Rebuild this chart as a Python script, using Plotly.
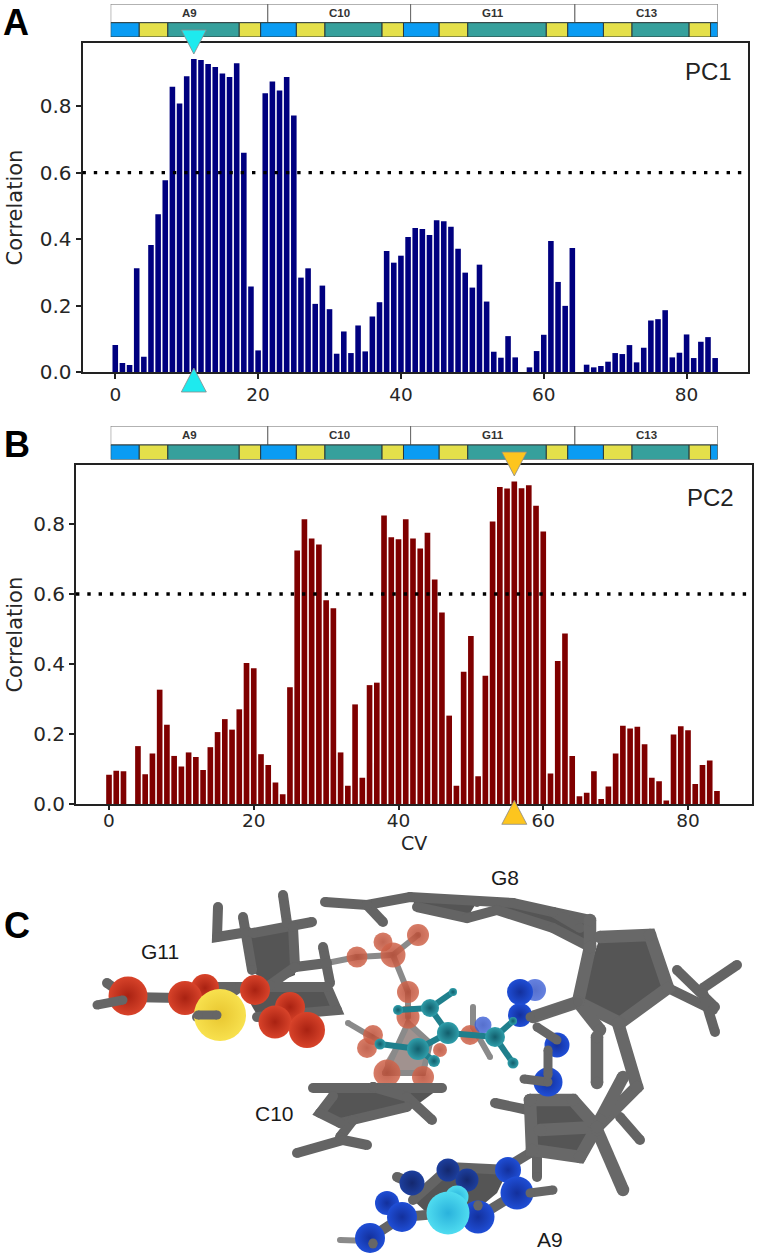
import plotly.graph_objects as go

W, H = 757, 1259

# ---------- data ----------
cv = list(range(85))
pc1 = [.081,.027,.021,.312,.046,.382,.475,.577,.858,.808,.890,.942,.939,.927,.918,.898,.888,.929,.660,.257,
       .065,.839,.874,.847,.888,.772,.284,.312,.205,.260,.189,.055,.122,.057,.140,.062,.167,.210,.364,.329,
       .350,.406,.433,.430,.412,.457,.454,.437,.371,.299,.254,.323,.212,.061,.043,.108,.044,0,.014,.063,
       .112,.394,.271,.199,.373,0,.022,.014,.018,.031,.057,.054,.081,.029,.073,.155,.159,.186,.044,.058,
       .113,.042,.091,.105,.042]
pc2 = [.084,.096,.094,0,.166,.086,.145,.327,.227,.138,.108,.148,.135,.098,.163,.206,.243,.213,.271,.403,
       .388,.143,.112,.062,.029,.334,.724,.813,.758,.741,.582,.559,.148,.053,.285,.076,.340,.347,.824,.762,
       .756,.813,.758,.730,.775,.641,.547,.253,.053,.378,.480,.080,.367,.807,.905,.901,.921,.902,.910,.852,
       .778,.088,.409,.487,.138,.023,.033,.094,.015,.051,.145,.224,.216,.221,.171,.076,.066,.011,.199,.223,
       .211,.058,.112,.125,.038]
threshold = 0.6
top_cv_pc1 = 11
top_cv_pc2 = 56

residues = ["A9", "C10", "G11", "C13"]
residue_cvs = [22, 20, 23, 20]
segment_cvs = [4,4,10,3, 5,4,8,3, 5,4,11,3, 5,4,8,3, 1]
BLUE, YEL, TEAL = "#0a9cf3", "#e4e04a", "#36a09c"
segment_colors = [BLUE,YEL,TEAL,YEL, BLUE,YEL,TEAL,YEL, BLUE,YEL,TEAL,YEL, BLUE,YEL,TEAL,YEL, BLUE]

# ---------- molecule scene (panel C), in scene units ----------
poly_dark = [
    [(600,937),(650,935),(668,988),(620,1023),(578,1002)],
    [(248,935),(293,928),(295,975),(270,985),(253,972)],
    [(530,1100),(573,1100),(597,1123),(580,1157),(532,1150)],
    [(333,1088),(440,1088),(410,1110),(340,1125),(320,1113)],
    [(240,985),(330,985),(337,1012),(257,1015)],
    [(413,1200),(450,1167),(508,1170),(497,1193),(473,1213),(427,1213)],
    [(410,897),(477,902),(467,918),(417,907)],
    [(513,903),(553,912),(590,925),(590,947),(553,928),(497,910)],
]
ribose_poly = [(385,1062),(408,1023),(430,1043),(423,1073),(385,1073)]
sticks_back = [
    [(340,1240),(370,1241)],
    [(357,957),(393,955)], [(393,955),(418,935)], [(393,955),(408,992)], [(408,992),(408,1017)],
    [(327,963),(357,957)], [(348,1023),(377,1040)], [(473,1007),(473,1027),(490,1057)],
    [(385,1073),(408,1023),(430,1043),(423,1073),(385,1073)],
]
sticks_main = [
    # G8 base
    [(325,902),(367,905),(410,897),(477,902),(513,903),(553,912),(590,920)],
    [(367,905),(383,922)], [(417,907),(467,918),(497,910),(553,928),(590,947)],
    [(553,912),(580,928)],
    # G8 side groups
    [(703,988),(737,965)], [(668,988),(713,1010)], [(677,970),(715,1007)], [(703,993),(715,1032)],
    [(620,1117),(640,1140)],
    # A9 sugar side
    [(495,1103),(528,1110)], [(537,1153),(537,1177)], [(530,1153),(507,1167)],
    # G11 sugar
    [(218,907),(217,937),(248,932)], [(243,917),(252,970)], [(283,895),(287,923)],
    [(253,933),(312,922)], [(293,927),(295,967),(327,963)], [(323,947),(330,983)], [(295,967),(270,985)],
    # G11 base
    [(107,983),(127,997)], [(127,997),(180,998)], [(213,987),(327,987),(337,1010),(257,1017)], [(240,987),(197,1017)],
    # C10
    [(313,1088),(373,1087),(442,1088)], [(373,1087),(407,1097),(432,1120)],
    [(333,1096),(320,1113),(340,1123),(407,1107)], [(353,1120),(340,1137)],
    [(297,1153),(343,1140),(367,1145)],
    # A9 base
    [(413,1200),(450,1167),(508,1170),(517,1193),(478,1217),(448,1213),(402,1217),(370,1238)],
    [(397,1177),(412,1183)],
]
sticks_near = [
    [(590,920),(590,947)],
    [(600,937),(650,935),(668,988),(620,1023),(578,1002),(590,947)],
    [(578,1002),(533,1017)], [(578,1002),(600,1030)], [(597,1037),(597,1083)],
    [(618,1023),(637,1087),(597,1127)], [(623,1077),(600,1120)],
    [(597,1127),(540,1130)], [(597,1130),(623,1190)],
    [(530,1100),(573,1100),(597,1127),(580,1157),(532,1150),(530,1100)],
]
stubs = [
    [(97,1005),(123,1000)], [(198,1015),(217,1015)], [(530,1193),(553,1190)],
    [(373,1243),(373,1244)], [(478,1205),(478,1206)], [(524,1079),(548,1082)],
    [(548,1050),(548,1075)], [(537,1027),(557,1040)], [(530,1017),(578,1002)],
]
atoms_faded_red = [(357,957,21),(383,942,19),(393,955,25),(418,935,22),(408,992,22),(408,1017,23),
                   (373,1035,20),(367,1048,20),(440,1050,14),(470,1035,20),(387,1073,27),(423,1077,22)]
atoms_red = [(205,988,28),(255,990,30),(290,1007,30),(128,996,39),(185,998,34),(275,1022,33),(307,1030,36)]
atoms_yellow = [(220,1015,52)]
atoms_faded_blue = [(535,990,22),(483,1025,17)]
atoms_blue_dark = [(448,1170,23),(467,1180,23),(412,1183,25)]
atoms_blue = [(520,1015,24),(520,992,26),(557,1045,25),(548,1082,29),(508,1170,26),(517,1193,33),
              (387,1203,24),(402,1217,30),(370,1238,30),(478,1217,33)]
atoms_cyan = [(457,1197,23),(448,1213,43)]
teal_bonds = [[(398,1010),(430,1008)], [(430,1008),(453,992)], [(430,1008),(448,1033)], [(448,1033),(495,1037)],
              [(495,1037),(513,1021)], [(495,1037),(513,1063)], [(448,1033),(418,1049)], [(380,1044),(418,1049)],
              [(418,1049),(434,1061)]]
atoms_teal = [(398,1010,10),(430,1008,18),(453,992,8),(448,1033,22),(495,1037,20),(513,1021,8),
              (513,1063,11),(380,1044,11),(418,1049,22),(434,1061,12)]
scene_labels = [("G8",505,877),("G11",160,951),("C10",274,1113),("A9",550,1239)]

# ---------- helpers ----------
def py(p):
    return 1 - p / H

def px(p):
    return p / W

def sticks(groups, color, width, xa="x5", ya="y5"):
    xs, ys = [], []
    for g in groups:
        for a, b in g:
            xs.append(a); ys.append(b)
        xs.append(None); ys.append(None)
    return go.Scatter(x=xs, y=ys, mode="lines+markers", xaxis=xa, yaxis=ya, hoverinfo="skip",
                      line=dict(color=color, width=width),
                      marker=dict(color=color, size=width, line=dict(width=0)))

def spheres(atoms, center, edge, opacity=1.0):
    return go.Scatter(x=[a[0] for a in atoms], y=[a[1] for a in atoms], mode="markers",
                      xaxis="x5", yaxis="y5", hoverinfo="skip",
                      marker=dict(size=[a[2] for a in atoms], color=center, opacity=opacity,
                                  gradient=dict(type="radial", color=edge), line=dict(width=0)))

def polygon(pts, fill):
    return go.Scatter(x=[p[0] for p in pts], y=[p[1] for p in pts], mode="lines", fill="toself",
                      fillcolor=fill, xaxis="x5", yaxis="y5", hoverinfo="skip", line=dict(width=0))

fig = go.Figure()

# ---------- bars ----------
fig.add_trace(go.Bar(x=cv, y=pc1, width=0.78, marker=dict(color="#00007f", line=dict(width=0)), xaxis="x", yaxis="y"))
fig.add_trace(go.Bar(x=cv, y=pc2, width=0.78, marker=dict(color="#7f0000", line=dict(width=0)), xaxis="x2", yaxis="y2"))

# ---------- residue strips ----------
ROW_LOW, ROW_UP = 14.3, 18.7
starts = [sum(segment_cvs[:i]) for i in range(len(segment_cvs))]
res_starts = [sum(residue_cvs[:i]) for i in range(len(residue_cvs))]
for xa, ya in (("x3", "y3"), ("x4", "y4")):
    fig.add_trace(go.Bar(orientation="h", x=residue_cvs, base=res_starts, y=[ROW_LOW + ROW_UP / 2] * 4, width=ROW_UP,
                         marker=dict(color="white", line=dict(color="#666666", width=1)), xaxis=xa, yaxis=ya))
    fig.add_trace(go.Bar(orientation="h", x=segment_cvs, base=starts, y=[ROW_LOW / 2] * len(starts), width=ROW_LOW,
                         marker=dict(color=segment_colors, line=dict(color="#2a3a3a", width=1)), xaxis=xa, yaxis=ya))

# ---------- molecule ----------
for p in poly_dark:
    fig.add_trace(polygon(p, "#555555"))
fig.add_trace(polygon(ribose_poly, "rgba(130,110,105,0.75)"))
fig.add_trace(sticks(sticks_back, "#8a8a8a", 6))
fig.add_trace(spheres(atoms_faded_red, "#d0654c", "#b84a33", 0.85))
fig.add_trace(sticks(sticks_main, "#646464", 10))
fig.add_trace(sticks(sticks_near, "#686868", 12.5))
fig.add_trace(spheres(atoms_faded_blue, "#3f62d8", "#2c4cc0", 0.8))
fig.add_trace(spheres(atoms_blue_dark, "#1d3f9e", "#14286e"))
fig.add_trace(spheres(atoms_red, "#d8432a", "#a92212"))
fig.add_trace(spheres(atoms_yellow, "#f8e14e", "#e8c630"))
fig.add_trace(spheres(atoms_blue, "#1f4ed6", "#13309c"))
fig.add_trace(spheres(atoms_cyan, "#4fdcf0", "#2ab2dc"))
fig.add_trace(sticks(stubs, "#666666", 9))
fig.add_trace(sticks(teal_bonds, "#1f7f8c", 6))
fig.add_trace(spheres(atoms_teal, "#2f9eaa", "#125e6c"))

# ---------- layout ----------
XTICK = dict(family="DejaVu Sans", size=18.5, color="#262626")
YTICK = dict(family="DejaVu Sans", size=20, color="#262626")
TITLE = dict(family="DejaVu Sans", size=21, color="#262626")

def value_axes(xdom, ydom, xrange_, yrange_, xanchor, yanchor, standoff):
    xa = dict(domain=[px(xdom[0]), px(xdom[1])], range=xrange_, anchor=yanchor, tickmode="array", automargin=False,
              tickvals=[0,20,40,60,80], ticks="outside", ticklen=5, tickwidth=1.5, tickcolor="#222",
              showline=True, linecolor="#222", linewidth=2, mirror=True, showgrid=False, zeroline=False, tickfont=XTICK)
    ya = dict(domain=[py(ydom[1]), py(ydom[0])], range=yrange_, anchor=xanchor, tickmode="array", automargin=False,
              tickvals=[0,.2,.4,.6,.8], tickformat=".1f", ticks="outside", ticklen=5, tickwidth=1.5, tickcolor="#222",
              showline=True, linecolor="#222", linewidth=2, mirror=True, showgrid=False, zeroline=False, tickfont=YTICK,
              title=dict(text="Correlation", font=TITLE, standoff=standoff))
    return xa, ya

xa1, ya1 = value_axes((82.5,748), (43,372), [-4.59,88.6], [0,.99], "x", "y", 11)
xa2, ya2 = value_axes((76,751.7), (465,804.3), [-4.56,88.8], [0,.968], "x2", "y2", 5)
xa2.update(ticklen=3.5, ticklabelstandoff=-5)

def strip_axes(top, bottom):
    xa = dict(domain=[px(110.7), px(717.7)], range=[0,85], visible=False, automargin=False)
    ya = dict(domain=[py(bottom), py(top)], range=[0,ROW_LOW+ROW_UP], visible=False, automargin=False)
    return xa, ya

xa3, ya3 = strip_axes(4, 37)
xa4, ya4 = strip_axes(426, 459.5)
xa3.update(anchor="y3"); ya3.update(anchor="x3"); xa4.update(anchor="y4"); ya4.update(anchor="x4")

annotations = []
for xr, yr in (("x3","y3"), ("x4","y4")):
    for name, s, n in zip(residues, res_starts, residue_cvs):
        annotations.append(dict(text=f"<b>{name}</b>", x=s+n/2, y=ROW_LOW+ROW_UP/2, xref=xr, yref=yr, showarrow=False,
                                xanchor="center", yanchor="middle",
                                font=dict(family="Liberation Sans", size=11.5, color="#333333")))
for t, cx, cy in (("A",16,22.5), ("B",16.5,445), ("C",16.5,925)):
    annotations.append(dict(text=f"<b>{t}</b>", x=px(cx), y=py(cy), xref="paper", yref="paper", showarrow=False,
                            xanchor="center", yanchor="middle",
                            font=dict(family="Liberation Sans", size=36, color="black")))
for t, cx, cy in (("PC1",708,72), ("PC2",710,497)):
    annotations.append(dict(text=t, x=px(cx), y=py(cy), xref="paper", yref="paper", showarrow=False,
                            xanchor="center", yanchor="middle",
                            font=dict(family="Liberation Sans", size=24, color="#222222")))
annotations.append(dict(text="CV", x=px(414), y=py(843), xref="paper", yref="paper", showarrow=False,
                        xanchor="center", yanchor="middle",
                        font=dict(family="DejaVu Sans", size=19, color="#262626")))
for t, cx, cy in scene_labels:
    annotations.append(dict(text=t, x=cx, y=cy, xref="x5", yref="y5", showarrow=False,
                            xanchor="center", yanchor="middle",
                            font=dict(family="Liberation Sans", size=21, color="#1a1a1a")))

def tri(x, xr, anchor_px, direction, fill):
    wid, hgt = 12.5, 24
    if direction == "down":
        path = f"M{-wid},0 L{wid},0 L0,{-hgt} Z"
    else:
        path = f"M{-wid},0 L{wid},0 L0,{hgt} Z"
    return dict(type="path", xref=xr, yref="paper", xsizemode="pixel", ysizemode="pixel",
                xanchor=x, yanchor=py(anchor_px), path=path, fillcolor=fill,
                line=dict(color="#8a8a8a", width=0.8), layer="above")

shapes = [
    dict(type="line", xref="x domain", yref="y", x0=0, x1=1, y0=threshold, y1=threshold,
         line=dict(color="black", width=3.4, dash="3.4px,7.9px"), layer="above"),
    dict(type="line", xref="x2 domain", yref="y2", x0=0, x1=1, y0=threshold, y1=threshold,
         line=dict(color="black", width=3.4, dash="3.4px,7.9px"), layer="above"),
    tri(top_cv_pc1, "x", 30, "down", "#1eeaee"),
    tri(top_cv_pc1, "x", 392, "up", "#1eeaee"),
    tri(top_cv_pc2, "x2", 452, "down", "#fdc51e"),
    tri(top_cv_pc2, "x2", 824.3, "up", "#fdc51e"),
]

fig.update_layout(
    width=W, height=H, margin=dict(l=0, r=0, t=0, b=0, autoexpand=False), autosize=False,
    paper_bgcolor="white", plot_bgcolor="rgba(0,0,0,0)", showlegend=False, barmode="overlay",
    xaxis=xa1, yaxis=ya1, xaxis2=xa2, yaxis2=ya2, xaxis3=xa3, yaxis3=ya3, xaxis4=xa4, yaxis4=ya4,
    xaxis5=dict(domain=[0,1], range=[0,W], visible=False, anchor="y5", automargin=False),
    yaxis5=dict(domain=[0,py(860)], range=[H,860], visible=False, anchor="x5", automargin=False),
    annotations=annotations, shapes=shapes,
)
fig.write_html("out.html", config={"displayModeBar": False},
               post_script="document.body.style.margin='0';document.documentElement.style.overflow='hidden';")
